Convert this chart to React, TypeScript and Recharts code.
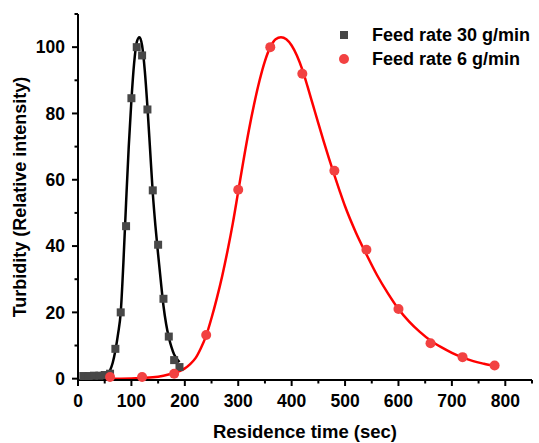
import { ComposedChart, Line, Scatter, XAxis, YAxis, Legend, Label } from 'recharts';

// axis ticks (majors get labels, the rest are minor marks)
const xTicks = [0, 50, 100, 150, 200, 250, 300, 350, 400, 450, 500, 550, 600, 650, 700, 750, 800, 850];
const yTicks = [0, 10, 20, 30, 40, 50, 60, 70, 80, 90, 100, 110];
const xMajor = [0, 100, 200, 300, 400, 500, 600, 700, 800];
const yMajor = [0, 20, 40, 60, 80, 100];

// measured points, feed rate 30 g/min
const fast30X = [10, 20, 30, 40, 50, 60, 70, 80, 90, 100, 110, 120, 130, 140, 150, 160, 170, 180, 190];
const fast30Y = [0.8, 0.8, 0.9, 0.9, 1.1, 1.5, 9, 20, 46, 84.6, 100, 97.5, 81.2, 56.8, 40.4, 24.1, 12.7, 5.6, 3.5];

// measured points, feed rate 6 g/min
const slow6X = [60, 120, 180, 240, 300, 360, 420, 480, 540, 600, 660, 720, 780];
const slow6Y = [0.5, 0.5, 1.5, 13.2, 57, 100, 92, 62.7, 38.9, 21, 10.7, 6.5, 4];

// fitted curves
const fit30X = [10, 20, 30, 40, 50, 55, 60, 65, 70, 75, 80, 85, 90, 95, 100, 105, 110, 115, 120, 125, 130, 135, 140, 145, 150, 155, 160, 165, 170, 175, 180, 185, 190];
const fit30Y = [0.1, 0.1, 0.1, 0.2, 0.6, 1.2, 2.5, 4.8, 8.5, 13.5, 20, 35, 53, 70, 84, 95, 101.5, 103, 100.5, 93, 82, 69, 56, 46, 37.5, 29.5, 22, 16.5, 12.5, 9.5, 7.3, 6, 5];

const fit6X = [60, 80, 100, 120, 140, 160, 180, 190, 200, 210, 220, 230, 240, 250, 260, 270, 280, 290, 300, 310, 320, 330, 340, 350, 360, 370, 380, 390, 400, 410, 420, 430, 440, 450, 460, 470, 480, 490, 500, 520, 540, 560, 580, 600, 620, 640, 660, 680, 700, 720, 740, 760, 780];
const fit6Y = [0, 0, 0.05, 0.2, 0.4, 0.9, 1.7, 2.3, 3.1, 4.4, 6.2, 9.2, 13, 18.3, 24.3, 31, 38.6, 47, 56.5, 66, 75, 83, 90, 95.8, 100, 102.4, 103, 102.4, 100.5, 97.4, 93.2, 88, 82.5, 77, 71.6, 66.4, 61.4, 56.6, 52, 44.2, 37.5, 31.2, 25.8, 21, 17.2, 14.1, 11.5, 9.5, 7.8, 6.4, 5.3, 4.5, 3.8];

const zip = (xs: number[], ys: number[]) => xs.map((x, i) => ({ x, y: ys[i] }));

const fast30 = zip(fast30X, fast30Y);
const slow6 = zip(slow6X, slow6Y);
const fit30 = zip(fit30X, fit30Y);
const fit6 = zip(fit6X, fit6Y);

const FONT = '"Liberation Sans", Arial, sans-serif';
const GRAY = '#474747';
const RED_DOT = '#f24141';

const XTick = ({ x, y, payload }: any) => {
  const major = xMajor.includes(payload.value);
  return (
    <g>
      <line x1={x} x2={x} y1={y} y2={y + (major ? 6 : 3.5)} stroke="#000" strokeWidth={2} />
      {major && (
        <text x={x} y={y + 27} textAnchor="middle" fontFamily={FONT} fontWeight="bold" fontSize={17.5} fill="#000">
          {payload.value}
        </text>
      )}
    </g>
  );
};

const YTick = ({ x, y, payload }: any) => {
  const major = yMajor.includes(payload.value);
  return (
    <g>
      <line x1={x} x2={x - (major ? 6 : 3.5)} y1={y} y2={y} stroke="#000" strokeWidth={2} />
      {major && (
        <text x={x - 13} y={y} dy="0.36em" textAnchor="end" fontFamily={FONT} fontWeight="bold" fontSize={17.5} fill="#000">
          {payload.value}
        </text>
      )}
    </g>
  );
};

const Square = (p: any) => <rect x={p.cx - 4} y={p.cy - 4} width={8} height={8} fill={GRAY} />;
const Dot = (p: any) => <circle cx={p.cx} cy={p.cy} r={5} fill={RED_DOT} />;

const LegendBox = () => (
  <div style={{ fontFamily: FONT, fontWeight: 'bold', fontSize: 18, color: '#000' }}>
    {[
      { label: 'Feed rate 30 g/min', sym: <rect x={8} y={8} width={8} height={8} fill={GRAY} /> },
      { label: 'Feed rate 6 g/min', sym: <circle cx={12} cy={12} r={5} fill={RED_DOT} /> },
    ].map((r) => (
      <div key={r.label} style={{ display: 'flex', alignItems: 'center', height: 24, whiteSpace: 'nowrap' }}>
        <svg width={24} height={24}>{r.sym}</svg>
        <span style={{ marginLeft: 16 }}>{r.label}</span>
      </div>
    ))}
  </div>
);

export default function App() {
  return (
    <div style={{ width: 539, height: 443 }}>
      <style>{'body{margin:0}'}</style>
      <ComposedChart width={539} height={443} margin={{ top: 14, right: 7, bottom: 0, left: 0 }}>
        <XAxis
          dataKey="x"
          type="number"
          domain={[0, 850]}
          ticks={xTicks}
          interval={0}
          height={63}
          tickSize={0}
          tickMargin={0}
          tickLine={false}
          tick={<XTick />}
          axisLine={{ stroke: '#000', strokeWidth: 2 }}
        >
          <Label value="Residence time (sec)" position="insideBottom" offset={5} style={{ fontFamily: FONT, fontWeight: 'bold', fontSize: 18.5, fill: '#000' }} />
        </XAxis>
        <YAxis
          dataKey="y"
          type="number"
          domain={[-0.4, 110]}
          ticks={yTicks}
          interval={0}
          width={78}
          tickSize={0}
          tickMargin={0}
          tickLine={false}
          tick={<YTick />}
          axisLine={{ stroke: '#000', strokeWidth: 2 }}
        >
          <Label
            content={({ viewBox }: any) => {
              const cx = viewBox.x + 20;
              const cy = viewBox.y + viewBox.height / 2;
              return (
                <text x={cx} y={cy} transform={`rotate(-90 ${cx} ${cy})`} textAnchor="middle" dy="0.36em" fontFamily={FONT} fontWeight="bold" fontSize={18} fill="#000">
                  Turbidity (Relative intensity)
                </text>
              );
            }}
          />
        </YAxis>
        <Legend
          layout="vertical"
          align="center"
          verticalAlign="middle"
          content={<LegendBox />}
          wrapperStyle={{ top: 23, left: 332, width: 'auto', height: 'auto' }}
        />
        <Line data={fit30} dataKey="y" type="monotone" stroke="#000" strokeWidth={2.5} dot={false} isAnimationActive={false} legendType="none" />
        <Line data={fit6} dataKey="y" type="monotone" stroke="#ff0000" strokeWidth={2.5} dot={false} isAnimationActive={false} legendType="none" />
        <Scatter data={fast30} dataKey="y" shape={Square} isAnimationActive={false} />
        <Scatter data={slow6} dataKey="y" shape={Dot} isAnimationActive={false} />
      </ComposedChart>
    </div>
  );
}
